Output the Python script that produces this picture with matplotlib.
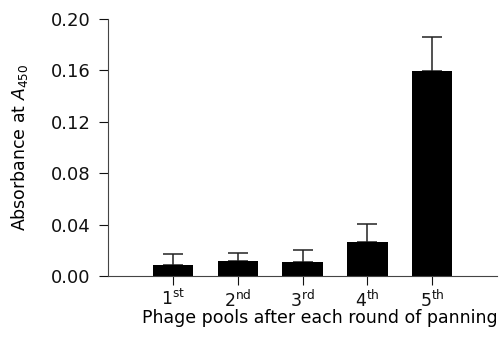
import numpy as np
import matplotlib
matplotlib.use('Agg')
import matplotlib.pyplot as plt

rounds = ['1$^{\\mathregular{st}}$', '2$^{\\mathregular{nd}}$', '3$^{\\mathregular{rd}}$',
          '4$^{\\mathregular{th}}$', '5$^{\\mathregular{th}}$']
absorbance = [0.0083, 0.012, 0.0107, 0.0265, 0.1595]
err_up = [0.0087, 0.0057, 0.0093, 0.0142, 0.0265]

plt.rcParams['font.family'] = 'DejaVu Sans'
plt.rcParams['mathtext.default'] = 'regular'

fig = plt.figure(figsize=(4.99, 3.37), dpi=100)
ax = fig.add_axes([0.2164, 0.181, 0.78, 0.7626])

x = np.arange(1, 6)
ax.bar(x, absorbance, width=0.62, color='black', zorder=2)
ax.errorbar(x, absorbance, yerr=[np.zeros(5), err_up], fmt='none', ecolor='#222222',
            elinewidth=1.1, capsize=7, capthick=1.1, zorder=1)

ax.set_xlim(0, 6)
ax.set_ylim(0, 0.2)
ax.set_yticks([0.0, 0.04, 0.08, 0.12, 0.16, 0.20])
ax.set_yticklabels(['0.00', '0.04', '0.08', '0.12', '0.16', '0.20'])
ax.set_xticks(x)
ax.set_xticklabels(rounds)
ax.tick_params(labelsize=12.5, length=6.5, width=0.8, direction='out', colors='#111111')
ax.tick_params(axis='y', pad=6, labelsize=13)
ax.tick_params(axis='x', pad=3)
ax.spines['top'].set_visible(False)
ax.spines['right'].set_visible(False)
ax.spines['left'].set_color('#444444')
ax.spines['bottom'].set_color('#444444')

ax.set_ylabel('Absorbance at $\\mathit{A}_{450}$', fontsize=12.5, labelpad=15)
ax.set_xlabel('Phage pools after each round of panning', fontsize=12.5)
ax.xaxis.set_label_coords(0.544, -0.13)

fig.savefig('out.png', dpi=100)
